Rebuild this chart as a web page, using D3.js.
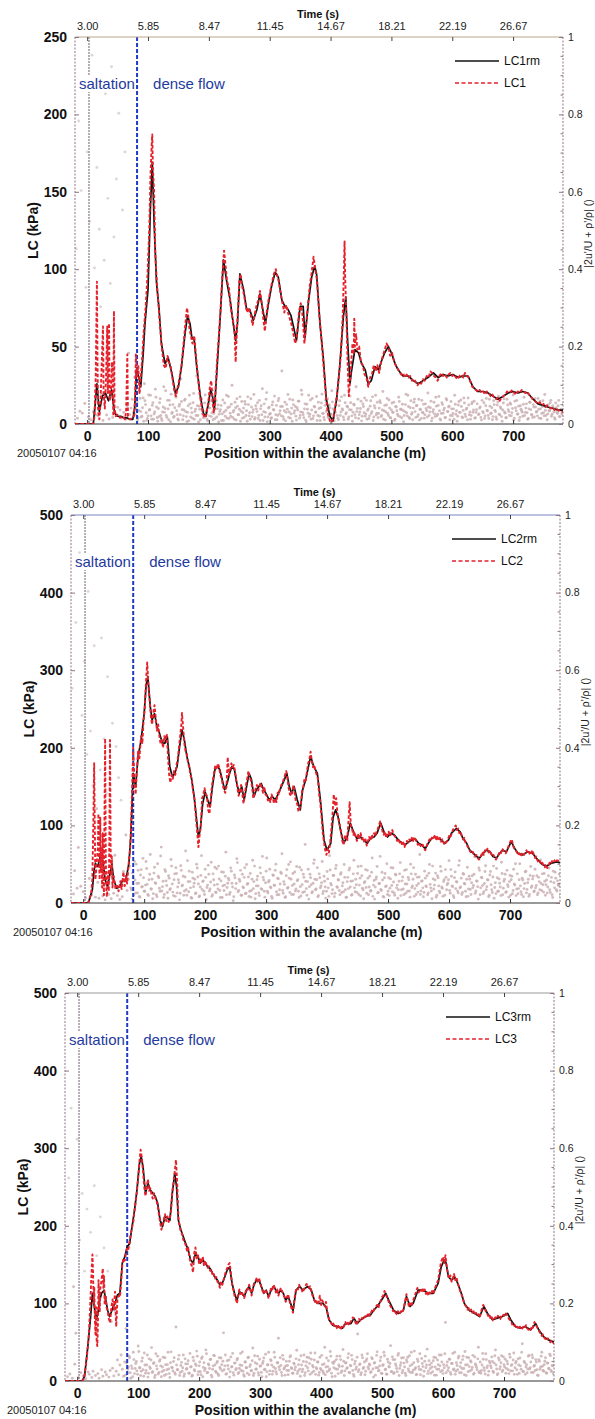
<!DOCTYPE html>
<html>
<head>
<meta charset="utf-8">
<script src="https://cdn.jsdelivr.net/npm/d3@7"></script>
<style>
  body { margin: 0; background: #fff; }
  svg { display: block; }
  text { font-family: "Liberation Sans", Arial, sans-serif; }
</style>
</head>
<body>
<svg id="chart" width="595" height="1419"></svg>
<script>
// ---- axis ticks ----
const positionTicks = [0, 100, 200, 300, 400, 500, 600, 700];
const timeTickLabels = ["3.00", "5.85", "8.47", "11.45", "14.67", "18.21", "22.19", "26.67"];
const rightTicks = [0, 0.2, 0.4, 0.6, 0.8, 1];
const saltationStart = 3;   // m
const denseFlowStart = 82;  // m

// ---- load cell 1: running mean and raw signal [position m, kPa] ----
const lc1rm = [[-20,0],[10,0],[13,12],[16,26],[20,8],[25,18],[30,20],[35,15],[40,22],[45,7],[50,5],[55,5],[60,4],[65,4],[70,3],[75,3],[78,10],[81,35],[85,30],[88,24],[92,45],[95,65],[100,87],[104,140],[107,169],[110,130],[114,91],[118,75],[122,52],[128,39],[133,43],[139,33],[145,20],[150,24],[155,37],[161,59],[165,70],[169,65],[172,56],[176,54],[180,37],[186,18],[191,7],[195,5],[199,13],[203,22],[206,18],[209,9],[213,33],[218,65],[224,106],[229,93],[235,80],[240,65],[244,54],[247,65],[251,97],[257,87],[262,74],[267,74],[273,67],[279,74],[284,84],[290,71],[293,65],[298,78],[303,89],[309,98],[314,95],[320,80],[325,76],[330,74],[335,70],[339,63],[344,54],[350,76],[355,76],[358,56],[364,80],[369,95],[374,102],[377,97],[383,63],[388,43],[393,16],[399,5],[404,2],[410,16],[415,37],[421,69],[425,82],[428,54],[432,26],[434,33],[440,48],[446,46],[451,39],[457,35],[462,26],[467,28],[473,37],[479,35],[484,41],[489,46],[495,50],[500,46],[506,39],[511,35],[519,31],[528,31],[536,28],[544,26],[552,28],[560,30],[569,33],[577,30],[585,32],[593,31],[601,32],[610,30],[618,31],[626,31],[634,24],[642,21],[651,21],[659,20],[667,18],[675,16],[684,18],[692,20],[700,21],[708,20],[716,21],[724,20],[733,16],[741,13],[749,12],[757,11],[766,10],[774,9],[782,9]];
const lc1 = [[-20,0],[10,0],[12,5],[14,30],[15,60],[16,92],[17,40],[18,8],[20,3],[22,15],[24,40],[26,63],[27,20],[29,10],[31,30],[33,63],[34,20],[36,65],[37,15],[39,20],[41,40],[43,5],[44,73],[45,10],[47,5],[50,6],[54,4],[58,5],[62,3],[64,8],[66,45],[67,5],[70,3],[74,4],[77,5],[79,20],[80,45],[82,30],[84,38],[86,20],[88,30],[90,40],[93,60],[96,75],[99,95],[102,125],[104,160],[106,180],[107,187],[108,165],[110,150],[112,110],[114,95],[117,78],[120,62],[123,48],[126,38],[129,36],[132,44],[134,40],[137,38],[140,30],[143,22],[146,18],[149,24],[152,30],[155,38],[158,50],[161,63],[164,75],[166,70],[168,62],[170,58],[173,52],[176,57],[178,48],[181,35],[184,22],[187,14],[190,7],[193,4],[196,6],[199,14],[202,25],[204,28],[206,15],[208,7],[210,12],[213,38],[216,55],[219,72],[222,95],[225,112],[227,104],[230,92],[233,88],[236,75],[239,68],[242,62],[244,40],[246,60],[248,75],[250,92],[252,97],[254,90],[257,85],[260,78],[263,72],[266,75],[269,70],[272,64],[275,70],[278,76],[281,80],[284,86],[287,78],[290,66],[292,60],[295,72],[298,80],[301,86],[304,92],[307,97],[310,100],[312,96],[315,92],[318,84],[321,78],[324,72],[327,77],[330,72],[333,68],[336,64],[339,58],[342,52],[345,58],[348,72],[351,78],[354,70],[357,52],[360,65],[363,78],[366,90],[369,98],[372,108],[375,100],[378,92],[381,72],[384,60],[387,45],[390,30],[393,15],[396,6],[399,2],[402,1],[405,5],[408,12],[411,20],[414,32],[417,45],[420,70],[422,100],[423,118],[424,95],[426,70],[428,40],[430,18],[432,28],[434,40],[436,52],[438,45],[439,68],[440,50],[442,58],[444,48],[447,50],[450,40],[453,38],[456,32],[459,30],[462,24],[465,30],[468,32],[471,38],[474,34],[477,38],[480,33],[483,40],[486,44],[489,48],[492,52],[495,50],[498,44],[501,46],[504,41],[507,38],[510,36],[513,34],[516,32],[519,33],[522,30],[525,32],[528,30],[531,31],[534,28],[537,29],[540,27],[543,25],[546,27],[549,26],[552,29],[555,28],[558,31],[561,30],[564,34],[567,33],[570,31],[573,30],[576,28],[579,31],[582,33],[585,31],[588,32],[591,30],[594,32],[597,33],[600,31],[603,32],[606,30],[609,29],[612,31],[615,32],[618,30],[621,33],[624,31],[627,30],[630,27],[633,24],[636,23],[639,22],[642,21],[645,22],[648,20],[651,21],[654,19],[657,21],[660,20],[663,18],[666,19],[669,17],[672,16],[675,17],[678,15],[681,17],[684,18],[687,19],[690,21],[693,20],[696,21],[699,22],[702,20],[705,19],[708,21],[711,20],[714,22],[717,21],[720,20],[723,21],[726,19],[729,18],[732,16],[735,15],[738,14],[741,13],[744,14],[747,12],[750,13],[753,11],[756,12],[759,11],[762,10],[765,11],[768,9],[771,10],[774,9],[777,8],[782,8]];

// ---- load cell 2 ----
const lc2rm = [[-20,0],[8,0],[10,4],[15,17],[18,43],[20,51],[24,47],[28,60],[32,55],[36,30],[40,21],[44,38],[47,51],[50,30],[55,19],[60,21],[65,30],[70,30],[75,51],[78,85],[82,167],[86,150],[90,189],[95,210],[100,244],[103,279],[106,292],[110,253],[113,236],[117,244],[121,227],[125,219],[130,206],[134,206],[138,214],[142,176],[146,163],[150,167],[154,176],[158,201],[162,223],[166,210],[170,189],[174,176],[178,159],[182,137],[186,107],[189,85],[192,94],[196,128],[200,143],[204,133],[208,124],[212,150],[216,172],[220,176],[224,172],[228,159],[232,146],[236,154],[240,167],[244,176],[248,172],[252,154],[256,141],[260,150],[264,133],[268,150],[272,167],[276,159],[280,137],[284,146],[288,150],[292,154],[296,146],[300,141],[305,133],[310,137],[315,133],[320,141],[325,150],[330,159],[334,167],[338,150],[342,141],[346,150],[351,133],[356,120],[360,146],[365,159],[373,189],[378,176],[384,167],[389,133],[395,81],[400,68],[406,77],[410,111],[414,120],[418,111],[422,94],[427,77],[433,85],[438,103],[444,90],[449,83],[455,85],[460,81],[466,77],[471,83],[477,85],[482,90],[488,103],[494,90],[499,85],[505,90],[510,88],[517,81],[523,77],[528,75],[534,79],[539,81],[544,83],[550,77],[555,75],[561,70],[566,77],[571,83],[577,85],[582,83],[588,81],[593,77],[599,81],[604,90],[612,96],[618,92],[623,83],[629,77],[634,68],[640,64],[645,60],[650,58],[656,64],[661,68],[667,66],[672,60],[678,58],[683,64],[688,68],[694,66],[702,79],[708,70],[713,64],[721,62],[729,66],[737,64],[743,58],[751,51],[759,47],[767,51],[776,53],[782,52]];
const lc2 = [[-20,0],[8,0],[10,5],[13,12],[15,30],[17,120],[18,180],[19,100],[20,30],[22,50],[24,70],[25,115],[26,60],[27,30],[28,110],[29,40],[30,70],[31,20],[32,90],[33,40],[34,10],[35,120],[36,212],[37,60],[38,15],[39,8],[40,25],[41,40],[42,15],[43,90],[44,210],[45,70],[46,35],[47,60],[48,20],[50,35],[53,18],[56,22],[58,15],[61,28],[63,18],[66,40],[68,22],[70,35],[72,25],[75,55],[77,70],[79,110],[80,140],[82,200],[84,160],[86,140],[88,170],[90,195],[92,185],[95,215],[97,205],[99,235],[101,250],[103,285],[105,310],[107,280],[109,262],[111,240],[113,230],[115,245],[117,255],[119,238],[121,222],[123,230],[125,215],[127,205],[129,210],[131,200],[133,215],[135,210],[137,218],[139,190],[141,165],[143,155],[145,165],[147,160],[149,170],[151,165],[153,178],[155,185],[157,200],[159,215],[161,230],[162,245],[164,225],[166,205],[168,195],[170,192],[172,180],[174,175],[176,165],[178,160],[180,145],[182,138],[184,120],[186,100],[188,82],[189,72],[191,88],[193,100],[195,135],[197,140],[199,148],[201,140],[203,138],[205,120],[207,115],[209,130],[211,150],[213,160],[215,170],[217,178],[219,172],[221,180],[223,175],[225,165],[227,160],[229,152],[231,145],[233,142],[235,150],[237,188],[239,165],[241,170],[243,180],[245,175],[247,178],[249,170],[251,158],[253,148],[255,138],[257,145],[259,152],[261,140],[263,128],[265,140],[267,152],[269,160],[271,170],[273,162],[275,158],[277,150],[279,135],[281,140],[283,148],[285,152],[287,145],[289,150],[291,155],[293,148],[295,142],[297,150],[299,140],[301,138],[303,132],[305,135],[307,130],[309,140],[311,135],[313,128],[315,135],[317,130],[319,142],[321,140],[323,148],[325,152],[327,155],[329,160],[331,165],[333,170],[335,160],[337,148],[339,140],[341,138],[343,145],[345,152],[347,140],[349,130],[351,128],[353,118],[355,122],[357,128],[359,145],[361,150],[363,160],[365,158],[367,170],[369,180],[371,185],[373,195],[375,182],[377,175],[379,178],[381,170],[383,165],[385,160],[387,140],[389,128],[391,110],[393,90],[395,78],[397,68],[399,62],[401,70],[403,65],[405,78],[407,95],[409,115],[411,140],[413,125],[415,135],[417,115],[419,108],[421,100],[423,92],[425,80],[427,75],[429,85],[431,88],[433,80],[435,105],[437,130],[439,100],[441,95],[443,88],[445,92],[447,85],[449,80],[451,88],[453,84],[455,90],[457,82],[459,85],[461,78],[463,82],[465,74],[467,80],[469,85],[471,80],[473,88],[475,85],[477,90],[479,86],[481,92],[483,95],[485,100],[487,105],[489,98],[491,92],[493,88],[495,92],[497,84],[499,88],[501,92],[503,86],[505,90],[507,94],[509,88],[511,86],[513,84],[515,80],[517,83],[519,78],[521,80],[523,75],[525,78],[527,72],[529,76],[531,80],[533,78],[535,82],[537,79],[539,84],[541,80],[543,85],[545,82],[547,78],[549,75],[551,78],[553,74],[555,72],[557,75],[559,70],[561,68],[563,72],[565,78],[567,80],[569,84],[571,82],[573,86],[575,84],[577,88],[579,82],[581,85],[583,80],[585,84],[587,79],[589,82],[591,78],[593,75],[595,78],[597,80],[599,84],[601,88],[603,86],[605,92],[607,95],[609,98],[611,100],[613,94],[615,96],[617,90],[619,92],[621,86],[623,82],[625,84],[627,78],[629,75],[631,72],[633,70],[635,66],[637,64],[639,66],[641,62],[643,60],[645,62],[647,58],[649,56],[651,58],[653,62],[655,66],[657,62],[659,68],[661,66],[663,70],[665,65],[667,68],[669,64],[671,60],[673,62],[675,58],[677,56],[679,60],[681,62],[683,66],[685,64],[687,70],[689,68],[691,66],[693,64],[695,68],[697,72],[699,76],[701,80],[703,82],[705,74],[707,70],[709,68],[711,66],[713,62],[715,64],[717,60],[719,63],[721,65],[723,62],[725,66],[727,68],[729,64],[731,66],[733,62],[735,65],[737,68],[739,62],[741,58],[743,60],[745,55],[747,52],[749,54],[751,50],[753,52],[755,48],[757,46],[759,50],[761,45],[763,48],[765,52],[767,50],[769,54],[771,52],[773,55],[775,52],[777,55],[782,54]];

// ---- load cell 3 ----
const lc3rm = [[-20,0],[8,0],[12,6],[15,27],[18,49],[22,83],[25,113],[28,96],[31,79],[34,87],[37,104],[40,113],[44,117],[47,104],[50,91],[53,83],[56,89],[59,96],[62,100],[66,111],[70,113],[74,152],[78,160],[82,173],[86,177],[90,199],[94,220],[98,246],[102,280],[105,289],[108,276],[112,242],[116,255],[120,246],[124,242],[128,238],[132,229],[136,207],[140,199],[144,212],[148,210],[152,207],[156,242],[160,268],[163,250],[166,207],[170,195],[174,186],[178,177],[182,169],[186,156],[190,152],[194,164],[198,160],[202,152],[206,156],[210,152],[214,147],[218,145],[222,139],[226,134],[230,130],[234,124],[238,126],[242,134],[246,143],[250,147],[254,126],[258,113],[262,104],[266,115],[270,113],[274,109],[278,117],[282,122],[286,113],[290,124],[294,130],[298,130],[302,122],[306,113],[310,117],[314,109],[318,117],[322,122],[326,117],[330,113],[334,117],[338,113],[342,104],[346,109],[350,100],[354,91],[359,117],[365,122],[370,117],[378,122],[384,117],[389,104],[395,100],[403,100],[408,96],[413,79],[419,72],[427,70],[435,68],[440,74],[449,74],[454,81],[459,74],[465,79],[473,83],[481,85],[486,91],[492,96],[499,104],[506,113],[511,104],[519,91],[527,87],[535,91],[540,109],[546,96],[551,100],[559,117],[567,117],[576,113],[584,113],[592,126],[597,147],[602,156],[605,152],[609,134],[614,130],[619,134],[624,126],[630,113],[635,100],[643,91],[652,87],[660,83],[667,96],[673,87],[681,79],[689,81],[697,83],[706,87],[711,79],[719,70],[727,68],[735,70],[744,66],[752,74],[757,66],[765,57],[773,53],[782,50]];
const lc3 = [[-20,0],[8,0],[11,3],[13,12],[15,25],[17,40],[19,60],[21,90],[23,130],[25,163],[26,140],[27,100],[28,120],[29,80],[30,60],[31,95],[32,50],[33,45],[34,75],[35,130],[36,100],[37,90],[38,120],[40,130],[42,145],[43,120],[44,135],[45,100],[47,110],[48,95],[50,90],[52,80],[54,75],[56,95],[58,105],[60,92],[62,115],[63,90],[64,70],[66,105],[68,110],[70,108],[72,125],[74,150],[76,158],[78,155],[80,165],[82,172],[84,170],[86,180],[88,190],[90,198],[92,205],[94,220],[96,230],[98,245],[100,262],[102,282],[104,298],[106,288],[108,270],[110,250],[112,238],[114,250],[116,260],[118,245],[120,248],[122,240],[124,235],[126,242],[128,236],[130,232],[132,226],[134,215],[136,205],[138,195],[140,200],[142,208],[144,215],[146,206],[148,212],[150,205],[152,210],[154,220],[156,245],[158,255],[160,270],[162,285],[164,255],[166,210],[168,200],[170,192],[172,190],[174,182],[176,180],[178,175],[180,168],[182,172],[184,160],[186,152],[188,148],[190,140],[192,165],[194,172],[196,158],[198,163],[200,150],[202,158],[204,152],[206,160],[208,148],[210,155],[212,150],[214,146],[216,148],[218,142],[220,144],[222,136],[224,138],[226,132],[228,134],[230,128],[232,126],[234,120],[236,128],[238,124],[240,130],[242,136],[244,142],[246,145],[248,150],[250,152],[252,140],[254,125],[256,118],[258,110],[260,106],[262,100],[264,110],[266,118],[268,112],[270,115],[272,110],[274,107],[276,114],[278,120],[280,118],[282,124],[284,118],[286,110],[288,118],[290,126],[292,128],[294,132],[296,128],[298,133],[300,128],[302,120],[304,116],[306,112],[308,118],[310,115],[312,112],[314,106],[316,114],[318,120],[320,118],[322,124],[324,120],[326,114],[328,118],[330,110],[332,116],[334,120],[336,116],[338,112],[340,108],[342,102],[344,108],[346,112],[348,104],[350,98],[352,92],[354,88],[356,104],[358,115],[360,120],[362,118],[364,124],[366,120],[368,118],[370,114],[372,118],[374,122],[376,125],[378,124],[380,120],[382,122],[384,116],[386,110],[388,106],[390,102],[392,104],[394,98],[396,102],[398,110],[400,98],[402,104],[404,100],[406,96],[408,102],[410,90],[412,82],[414,78],[416,76],[418,72],[420,74],[422,70],[424,72],[426,68],[428,71],[430,69],[432,66],[434,70],[436,68],[438,72],[440,76],[442,72],[444,75],[446,72],[448,76],[450,78],[452,82],[454,80],[456,76],[458,72],[460,76],[462,80],[464,78],[466,82],[468,80],[470,84],[472,82],[474,86],[476,84],[478,88],[480,84],[482,88],[484,92],[486,90],[488,94],[490,96],[492,98],[494,94],[496,100],[498,104],[500,108],[502,110],[504,116],[506,112],[508,108],[510,104],[512,100],[514,96],[516,94],[518,90],[520,92],[522,88],[524,86],[526,90],[528,86],[530,88],[532,92],[534,90],[536,96],[538,104],[540,112],[542,104],[544,96],[546,100],[548,96],[550,102],[552,106],[554,110],[556,116],[558,120],[560,114],[562,118],[564,116],[566,120],[568,114],[570,118],[572,112],[574,116],[576,110],[578,114],[580,112],[582,116],[584,112],[586,118],[588,122],[590,126],[592,130],[594,140],[596,150],[598,156],[600,160],[602,152],[604,162],[606,148],[608,138],[610,132],[612,136],[614,128],[616,132],[618,138],[620,130],[622,134],[624,126],[626,122],[628,116],[630,112],[632,108],[634,102],[636,98],[638,96],[640,92],[642,94],[644,90],[646,92],[648,88],[650,90],[652,86],[654,88],[656,84],[658,86],[660,82],[662,88],[664,94],[666,98],[668,94],[670,90],[672,88],[674,84],[676,86],[678,80],[680,82],[682,78],[684,80],[686,82],[688,80],[690,84],[692,82],[694,80],[696,84],[698,86],[700,84],[702,88],[704,86],[706,84],[708,80],[710,78],[712,76],[714,72],[716,70],[718,72],[720,68],[722,70],[724,67],[726,70],[728,66],[730,68],[732,70],[734,68],[736,72],[738,68],[740,66],[742,64],[744,68],[746,66],[748,72],[750,76],[752,72],[754,70],[756,66],[758,64],[760,60],[762,58],[764,60],[766,56],[768,54],[770,52],[772,55],[774,52],[776,50],[778,52],[782,48]];

// ---- |2u'/U + rho'/rho| samples in thousandths ----
// first set: one every 2 m from -18 m; second set: one every 2 m from 79 m
const fluctStart = -18, fluctStartB = 79, fluctStep = 2;
const fluct1 = [450,12,780,30,600,25,880,50,350,700,15,520,8,950,28,400,20,660,18,500,
300,74,6,420,850,20,580,10,360,920,14,480,25,630,40,800,33,12,550,27,
700,9,44,180,21,38,61,26,118,37,54,13,82,29,17,64,101,47,6,18,
33,71,9,52,23,87,41,4,16,62,11,28,93,37,19,58,8,46,74,27,
14,39,66,21,7,48,113,34,18,58,29,3,44,71,15,26,52,9,35,121,
19,43,8,61,33,14,72,27,5,49,38,16,84,24,11,57,36,2,29,45,
23,6,51,32,12,68,41,17,97,28,9,39,62,21,35,4,55,26,14,48,
31,67,18,9,41,27,73,13,36,52,19,6,44,88,29,15,61,3,38,22,
11,46,34,69,21,8,57,23,42,134,16,31,5,47,73,28,12,38,59,25,
42,7,33,56,19,84,27,13,49,3,35,71,22,9,63,18,41,28,6,53,
17,39,74,24,8,58,31,14,46,22,83,36,5,27,61,12,44,19,67,33,
8,52,26,41,15,69,33,4,48,21,93,37,11,28,56,17,42,64,23,9,
36,18,57,29,6,44,71,25,13,38,52,19,81,31,7,46,24,59,14,33,
27,53,9,41,22,66,16,35,48,3,29,74,18,42,11,57,26,38,61,14,
45,21,7,34,58,26,12,49,31,77,19,39,5,28,53,16,43,22,68,10,
24,47,33,13,62,29,41,8,55,18,36,71,22,4,46,27,59,15,32,51,
16,38,64,21,9,49,27,56,13,34,82,23,41,7,29,52,18,63,31,11,
43,25,8,57,32,15,46,69,21,37,4,51,28,13,61,34,19,48,26,72,
12,39,58,23,6,44,31,17,66,27,49,9,36,53,21,14,41,62,28,18,
35,56,11,42,26,73,19,8,47,31,58,22,39,13,51,27,44,16,33,24];
const fluct1b = [22,48,7,31,63,15,39,4,57,26,11,72,34,18,45,9,28,66,13,37,
52,19,6,41,27,83,14,36,58,3,24,47,17,69,31,10,43,21,55,8,
33,61,16,27,5,49,38,12,76,29,19,44,2,35,64,23,13,51,30,9,
41,18,57,26,8,37,92,15,46,22,34,6,59,28,17,71,39,11,25,48,
14,32,53,7,43,21,67,30,12,38,55,19,4,47,26,62,16,34,9,44,
29,11,58,36,21,6,49,27,78,15,40,24,13,54,33,8,45,19,63,31,
18,42,9,53,27,35,14,61,23,4,47,31,17,39,56,12,28,73,21,36,
7,48,25,16,59,33,11,42,27,68,19,37,6,51,24,14,45,29,62,17,
39,22,54,12,31,46,19,8,57,28,36,15,71,23,43,9,34,52,18,27,
46,13,29,61,21,37,5,49,26,17,58,32,11,43,24,67,15,38,20,53,
24,57,16,33,9,45,28,63,19,38,12,51,27,6,42,31,18,55,35,13,
32,19,47,26,71,14,39,22,8,53,29,44,16,61,35,11,27,48,21,37,
15,41,28,56,12,34,23,66,18,45,31,7,52,25,38,14,59,29,43,19,
36,24,9,48,31,17,55,27,42,13,64,22,35,8,46,28,19,53,33,12,
27,49,21,38,14,58,26,11,44,32,19,61,24,39,16,47,29,9,54,22,
41,16,33,62,25,13,46,29,51,18,37,7,56,31,22,43,14,35,27,48,
19,38,26,11,53,34,21,47,15,41,29,63,12,36,24,57,18,32,45,23,
31,52,17,44,28,9,39,24,58,16,35,22,49,27,13,42,31,19,37,26];
const fluct2 = [550,20,80,720,35,140,900,40,480,26,620,10,380,800,60,440,18,300,660,12,
240,50,9,340,680,15,420,5,280,580,19,360,8,460,22,120,400,16,320,6,
262,13,78,41,172,29,58,91,36,7,62,104,23,47,81,14,69,38,112,27,
43,86,19,57,122,33,8,74,49,18,98,62,27,141,39,11,83,54,24,67,
31,109,46,16,72,88,23,57,5,93,41,66,28,131,17,52,79,36,9,61,
48,21,97,64,13,38,119,52,27,84,6,43,71,33,102,18,57,89,24,45,
92,29,54,11,76,43,128,37,61,19,87,48,3,69,34,111,26,58,81,17,
38,63,21,96,47,14,73,29,107,52,8,41,66,23,88,34,117,56,12,79,
27,51,84,36,9,68,42,97,18,59,31,76,124,22,45,13,83,37,61,103,
19,73,46,28,91,57,11,39,82,24,63,148,34,52,7,71,44,26,99,58,
33,88,16,62,41,104,27,53,9,78,36,119,47,21,68,13,86,39,57,29,
71,24,49,96,31,12,63,82,38,17,54,107,26,44,73,19,61,92,35,8,
52,37,81,18,66,29,113,43,7,58,91,24,47,32,76,14,62,39,98,27,
16,59,42,87,23,71,36,9,53,101,31,64,18,46,83,27,57,12,72,41,
88,34,19,63,47,122,28,54,13,79,41,67,23,96,36,8,59,43,74,17,
62,27,91,38,14,57,83,31,48,106,22,66,39,11,77,52,28,94,36,61,
24,71,46,13,89,33,58,19,67,42,116,28,53,7,81,36,62,21,47,93,
39,56,17,78,31,64,9,49,86,27,59,38,102,18,53,71,26,44,12,68,
57,21,84,43,16,72,34,98,26,61,13,47,79,32,58,19,91,41,66,28,
36,67,23,52,108,29,44,73,17,56,38,87,24,63,11,49,76,31,54,42];
const fluct2b = [31,74,18,56,97,23,48,12,83,39,62,27,104,45,16,71,33,58,21,89,
47,13,66,35,118,28,53,19,78,42,9,61,34,92,25,57,14,73,38,49,
22,81,43,17,64,31,106,26,52,11,76,39,58,23,87,46,15,68,32,54,
19,63,37,94,28,51,14,72,43,25,85,33,59,11,77,41,29,66,18,48,
56,24,79,38,13,62,47,101,29,53,17,71,36,88,22,45,64,27,12,58,
34,92,21,57,41,16,74,32,63,27,49,113,23,55,38,14,69,43,81,26,
61,18,46,73,29,52,11,67,35,96,24,58,42,19,77,33,54,27,89,15,
44,71,26,53,17,84,39,62,23,48,108,31,57,13,72,36,49,21,66,38,
27,59,14,82,43,31,68,22,94,37,56,18,75,41,26,63,11,52,34,87,
53,19,72,36,58,24,91,43,15,67,31,49,83,22,61,38,27,76,14,55,
38,64,23,47,117,29,56,12,73,41,19,62,35,88,26,51,17,69,43,31,
72,16,54,33,81,22,46,63,28,97,37,58,14,71,42,25,64,19,53,36,
24,61,39,18,74,45,28,92,33,56,12,67,41,23,79,35,52,17,63,44,
57,29,83,41,16,62,34,51,23,106,38,19,73,47,27,58,14,66,32,49,
36,71,22,54,39,87,18,63,42,26,78,31,57,13,69,44,24,92,37,21,
62,27,48,16,73,35,58,24,81,39,52,17,66,29,46,98,33,21,57,41,
19,56,34,77,23,49,14,68,37,59,26,84,42,18,63,31,47,72,25,53,
44,23,67,31,52,18,79,36,61,28,43,71,15,57,34,26,62,39,48,22];
const fluct3 = [300,8,520,15,700,4,240,40,120,620,6,360,18,480,10,280,3,440,20,14,
380,6,22,500,11,320,16,4,420,26,9,340,20,13,280,7,24,150,30,10,
178,22,51,13,38,64,27,9,46,132,18,33,57,4,29,71,16,42,23,87,
31,11,48,26,69,17,38,7,54,29,83,21,44,12,36,61,19,52,8,33,
24,57,14,39,28,6,72,31,47,18,136,26,53,11,37,22,64,15,41,29,
49,17,33,9,58,26,41,74,13,36,21,55,8,44,29,67,19,38,52,12,
27,63,38,19,47,11,32,56,23,121,36,14,49,28,7,59,34,18,43,26,
51,16,29,68,37,22,9,46,31,57,13,39,24,82,17,44,28,61,12,35,
19,42,56,27,8,38,71,23,49,14,33,58,21,44,107,26,37,11,53,31,
36,24,13,48,62,29,17,41,33,76,22,51,9,38,27,64,18,46,31,57,
14,53,37,22,69,31,46,12,58,26,39,17,84,33,21,49,28,61,8,42,
47,28,61,16,34,52,23,78,11,43,29,57,19,37,63,24,9,48,33,118,
26,41,18,57,32,13,49,67,28,38,21,54,7,44,31,72,23,36,58,16,
39,62,27,14,46,33,88,21,52,18,41,29,63,11,37,56,24,43,17,51,
58,22,36,71,19,44,28,13,53,34,67,26,42,9,48,31,79,23,38,17,
33,49,12,57,27,39,64,21,46,16,31,148,37,24,53,19,42,68,28,14,
44,26,61,34,18,52,29,73,11,39,57,23,46,32,14,59,37,26,84,21,
17,38,53,24,67,31,12,48,36,59,22,43,77,28,16,51,34,62,25,39,
53,29,41,16,58,37,23,69,31,47,14,38,56,27,93,21,44,33,18,61,
28,46,64,19,37,52,26,11,48,33,71,24,39,57,17,43,29,62,21,36];
const fluct3b = [12,43,27,61,18,36,8,52,29,47,14,73,31,22,56,9,38,24,64,17,
33,51,19,42,6,67,28,15,48,36,21,58,11,39,26,71,16,44,32,23,
57,14,38,26,63,19,45,31,9,54,27,41,17,68,34,12,49,23,37,61,
21,46,13,59,32,24,77,18,41,29,53,7,36,62,22,44,15,57,28,39,
48,26,64,16,37,51,21,33,68,12,43,29,55,19,38,24,72,13,46,31,
17,58,34,23,49,11,62,27,41,18,53,36,8,47,26,66,21,39,14,52,
38,22,71,29,15,44,33,57,19,63,28,12,48,37,24,59,31,17,43,26,
54,16,39,27,62,21,47,11,36,58,23,42,69,18,33,51,14,28,46,19,
29,63,22,41,13,56,34,24,73,17,45,31,9,52,27,38,61,19,35,48,
23,44,31,67,18,36,52,14,41,27,58,21,39,13,64,29,46,22,54,33,
41,19,57,28,43,12,63,31,24,49,17,37,71,26,15,53,34,42,21,59,
16,52,36,21,68,29,44,18,57,33,11,46,28,62,19,39,25,74,31,14,
47,27,13,55,34,22,61,38,16,49,29,43,21,58,33,12,51,27,36,64,
24,39,67,18,46,31,53,14,42,26,71,22,37,56,18,44,29,61,13,38,
58,21,34,49,26,63,17,41,32,54,19,46,24,68,31,15,52,36,22,43,
31,47,19,62,38,13,56,28,44,21,59,33,17,48,26,66,23,39,51,14,
43,26,54,17,36,71,22,47,14,39,28,63,31,19,57,35,24,46,12,52,
27,61,35,22,48,18,43,29,66,24,37,15,53,41,21,58,33,16,45,28];

// ---- panel layout ----
const panels = [
  { left: 75, right: 563, top: 37,  bottom: 424,  yMax: 250, yStep: 50,  rm: lc1rm, raw: lc1, fluct: fluct1, fluctB: fluct1b, names: ["LC1rm", "LC1"], topColor: "#bba58e" },
  { left: 71, right: 560, top: 515, bottom: 903,  yMax: 500, yStep: 100, rm: lc2rm, raw: lc2, fluct: fluct2, fluctB: fluct2b, names: ["LC2rm", "LC2"], topColor: "#7f86c4" },
  { left: 65, right: 554, top: 993, bottom: 1381, yMax: 500, yStep: 100, rm: lc3rm, raw: lc3, fluct: fluct3, fluctB: fluct3b, names: ["LC3rm", "LC3"], topColor: "#9a9a9a" }
];

const svg = d3.select("#chart");
const FONT = '"Liberation Sans", Arial, sans-serif';
const mauve = "#8f7484";
const red = "#e5212b";

panels.forEach((p, i) => {
  const x = d3.scaleLinear().domain([-20, 782]).range([p.left, p.right]);
  const y = d3.scaleLinear().domain([0, p.yMax]).range([p.bottom, p.top]);
  const y2 = d3.scaleLinear().domain([0, 1]).range([p.bottom, p.top]);
  const g = svg.append("g");

  const clipId = "clip" + i;
  svg.append("clipPath").attr("id", clipId).append("rect")
    .attr("x", p.left).attr("y", p.top - 1)
    .attr("width", p.right - p.left).attr("height", p.bottom - p.top + 1);

  // fluctuation samples (right axis); the few large ones are drawn faint
  const samples = p.fluct.map((v, k) => [fluctStart + k * fluctStep, v])
    .concat(p.fluctB.map((v, k) => [fluctStartB + k * fluctStep, v]));
  g.append("g").attr("clip-path", `url(#${clipId})`)
    .selectAll("circle").data(samples).join("circle")
    .attr("cx", d => x(d[0]))
    .attr("cy", d => y2(d[1] / 1000) - 1.2)
    .attr("r", 1.45)
    .attr("fill", d => d[1] > 250 ? "#b3a3a6" : "#c8adaf")
    .attr("opacity", d => d[1] > 250 ? 0.45 : 0.8);

  // start of saltation layer and of dense flow
  g.append("line")
    .attr("x1", x(saltationStart)).attr("x2", x(saltationStart))
    .attr("y1", p.top).attr("y2", p.bottom)
    .attr("stroke", "#6f6070").attr("stroke-width", 1)
    .attr("stroke-dasharray", "2,1");
  g.append("line")
    .attr("x1", x(denseFlowStart)).attr("x2", x(denseFlowStart))
    .attr("y1", p.top).attr("y2", p.bottom)
    .attr("stroke", "#1f3cc0").attr("stroke-width", 2)
    .attr("stroke-dasharray", "4,2");

  // frame: left (dotted), right (dotted), bottom, top
  g.append("line").attr("x1", p.left).attr("x2", p.left).attr("y1", p.top).attr("y2", p.bottom)
    .attr("stroke", mauve).attr("stroke-dasharray", "2,1.5");
  g.append("line").attr("x1", p.right).attr("x2", p.right).attr("y1", p.top).attr("y2", p.bottom)
    .attr("stroke", mauve).attr("stroke-dasharray", "2,1.5");
  g.append("line").attr("x1", p.left).attr("x2", p.right).attr("y1", p.bottom).attr("y2", p.bottom)
    .attr("stroke", "#333").attr("stroke-width", 1);
  g.append("line").attr("x1", p.left).attr("x2", p.right).attr("y1", p.top).attr("y2", p.top)
    .attr("stroke", p.topColor).attr("stroke-width", 1.2);

  // bottom axis: position
  const xAxis = d3.axisBottom(x).tickValues(positionTicks).tickSize(-4).tickPadding(7).tickFormat(d3.format("d"));
  const gx = g.append("g").attr("transform", `translate(0,${p.bottom})`).call(xAxis);
  gx.select(".domain").remove();
  gx.selectAll("line").attr("stroke", "#333");
  gx.selectAll("text").attr("font-family", FONT).attr("font-size", 14).attr("font-weight", "bold").attr("fill", "#111");

  // top axis: time
  const tAxis = d3.axisTop(x).tickValues(positionTicks).tickSize(-4).tickPadding(7)
    .tickFormat((d, k) => timeTickLabels[k]);
  const gt = g.append("g").attr("transform", `translate(0,${p.top})`).call(tAxis);
  gt.select(".domain").remove();
  gt.selectAll("line").attr("stroke", "#444");
  gt.selectAll("text").attr("font-family", FONT).attr("font-size", 11).attr("fill", "#222");

  // left axis: LC (kPa)
  const yAxis = d3.axisLeft(y).tickValues(d3.range(0, p.yMax + 1, p.yStep)).tickSize(-4).tickPadding(8);
  const gy = g.append("g").attr("transform", `translate(${p.left},0)`).call(yAxis);
  gy.select(".domain").remove();
  gy.selectAll("line").attr("stroke", mauve);
  gy.selectAll("text").attr("font-family", FONT).attr("font-size", 14).attr("font-weight", "bold").attr("fill", "#111");

  // right axis: fluctuation
  const yAxisR = d3.axisRight(y2).tickValues(rightTicks).tickSize(-4).tickPadding(5)
    .tickFormat(d => d === 0 || d === 1 ? d3.format("d")(d) : d3.format(".1f")(d));
  const gr = g.append("g").attr("transform", `translate(${p.right},0)`).call(yAxisR);
  gr.select(".domain").remove();
  gr.selectAll("line").attr("stroke", mauve);
  gr.selectAll("text").attr("font-family", FONT).attr("font-size", 10.5).attr("fill", "#222");
  const minor = d3.range(0, 1.0001, 0.05).filter(v => Math.abs(v * 5 - Math.round(v * 5)) > 1e-6);
  g.append("g").selectAll("line").data(minor).join("line")
    .attr("x1", p.right - 2.5).attr("x2", p.right)
    .attr("y1", d => y2(d)).attr("y2", d => y2(d))
    .attr("stroke", mauve);

  // load cell lines: running mean underneath, raw signal dashed on top
  const line = d3.line().x(d => x(d[0])).y(d => y(d[1]));
  const lines = g.append("g").attr("clip-path", `url(#${clipId})`);
  lines.append("path").datum(p.rm).attr("d", line)
    .attr("fill", "none").attr("stroke", "#111").attr("stroke-width", 1.7).attr("stroke-linejoin", "round");
  lines.append("path").datum(p.raw).attr("d", line)
    .attr("fill", "none").attr("stroke", red).attr("stroke-width", 1.9)
    .attr("stroke-dasharray", "3.5,2").attr("stroke-linejoin", "round");

  // flow regime labels
  const labels = g.append("g");
  const sal = labels.append("text").attr("x", p.left + 4).attr("y", p.top + 52)
    .attr("font-family", FONT).attr("font-size", 15).attr("fill", "#1f3a9e").text("saltation");
  const bb = sal.node().getBBox();
  labels.insert("rect", () => sal.node())
    .attr("x", bb.x - 1).attr("y", bb.y + 1).attr("width", bb.width + 2).attr("height", bb.height - 1).attr("fill", "#fff");
  labels.append("text").attr("x", x(denseFlowStart) + 16).attr("y", p.top + 52)
    .attr("font-family", FONT).attr("font-size", 15).attr("fill", "#1f3a9e").text("dense flow");

  // legend
  const lx0 = p.right - 108, lx1 = p.right - 64;
  g.append("line").attr("x1", lx0).attr("x2", lx1).attr("y1", p.top + 24).attr("y2", p.top + 24)
    .attr("stroke", "#111").attr("stroke-width", 1.6);
  g.append("text").attr("x", lx1 + 5).attr("y", p.top + 28).attr("font-family", FONT).attr("font-size", 12).attr("fill", "#111").text(p.names[0]);
  g.append("line").attr("x1", lx0).attr("x2", lx1).attr("y1", p.top + 46).attr("y2", p.top + 46)
    .attr("stroke", red).attr("stroke-width", 1.6).attr("stroke-dasharray", "4,2.5");
  g.append("text").attr("x", lx1 + 5).attr("y", p.top + 50).attr("font-family", FONT).attr("font-size", 12).attr("fill", "#111").text(p.names[1]);

  // axis titles
  g.append("text").attr("x", (p.left + p.right) / 2 - 1).attr("y", p.top - 19)
    .attr("text-anchor", "middle").attr("font-family", FONT).attr("font-size", 11).attr("font-weight", "bold").attr("fill", "#111").text("Time (s)");
  g.append("text").attr("x", (p.left + p.right) / 2 - 4).attr("y", p.bottom + 34)
    .attr("text-anchor", "middle").attr("font-family", FONT).attr("font-size", 14).attr("font-weight", "bold").attr("fill", "#111")
    .text("Position within the avalanche (m)");
  g.append("text").attr("transform", `translate(${p.left - 37},${(p.top + p.bottom) / 2}) rotate(-90)`)
    .attr("text-anchor", "middle").attr("font-family", FONT).attr("font-size", 14).attr("font-weight", "bold").attr("fill", "#111")
    .text("LC (kPa)");
  g.append("text").attr("transform", `translate(${p.right + 29},${(p.top + p.bottom) / 2 + 3}) rotate(-90)`)
    .attr("text-anchor", "middle").attr("font-family", FONT).attr("font-size", 10.5).attr("fill", "#222")
    .text("|2u'/U + ρ'/ρ| ()");
  g.append("text").attr("x", p.left - 58).attr("y", p.bottom + 33)
    .attr("font-family", FONT).attr("font-size", 11).attr("fill", "#222").text("20050107 04:16");
});
</script>
</body>
</html>
